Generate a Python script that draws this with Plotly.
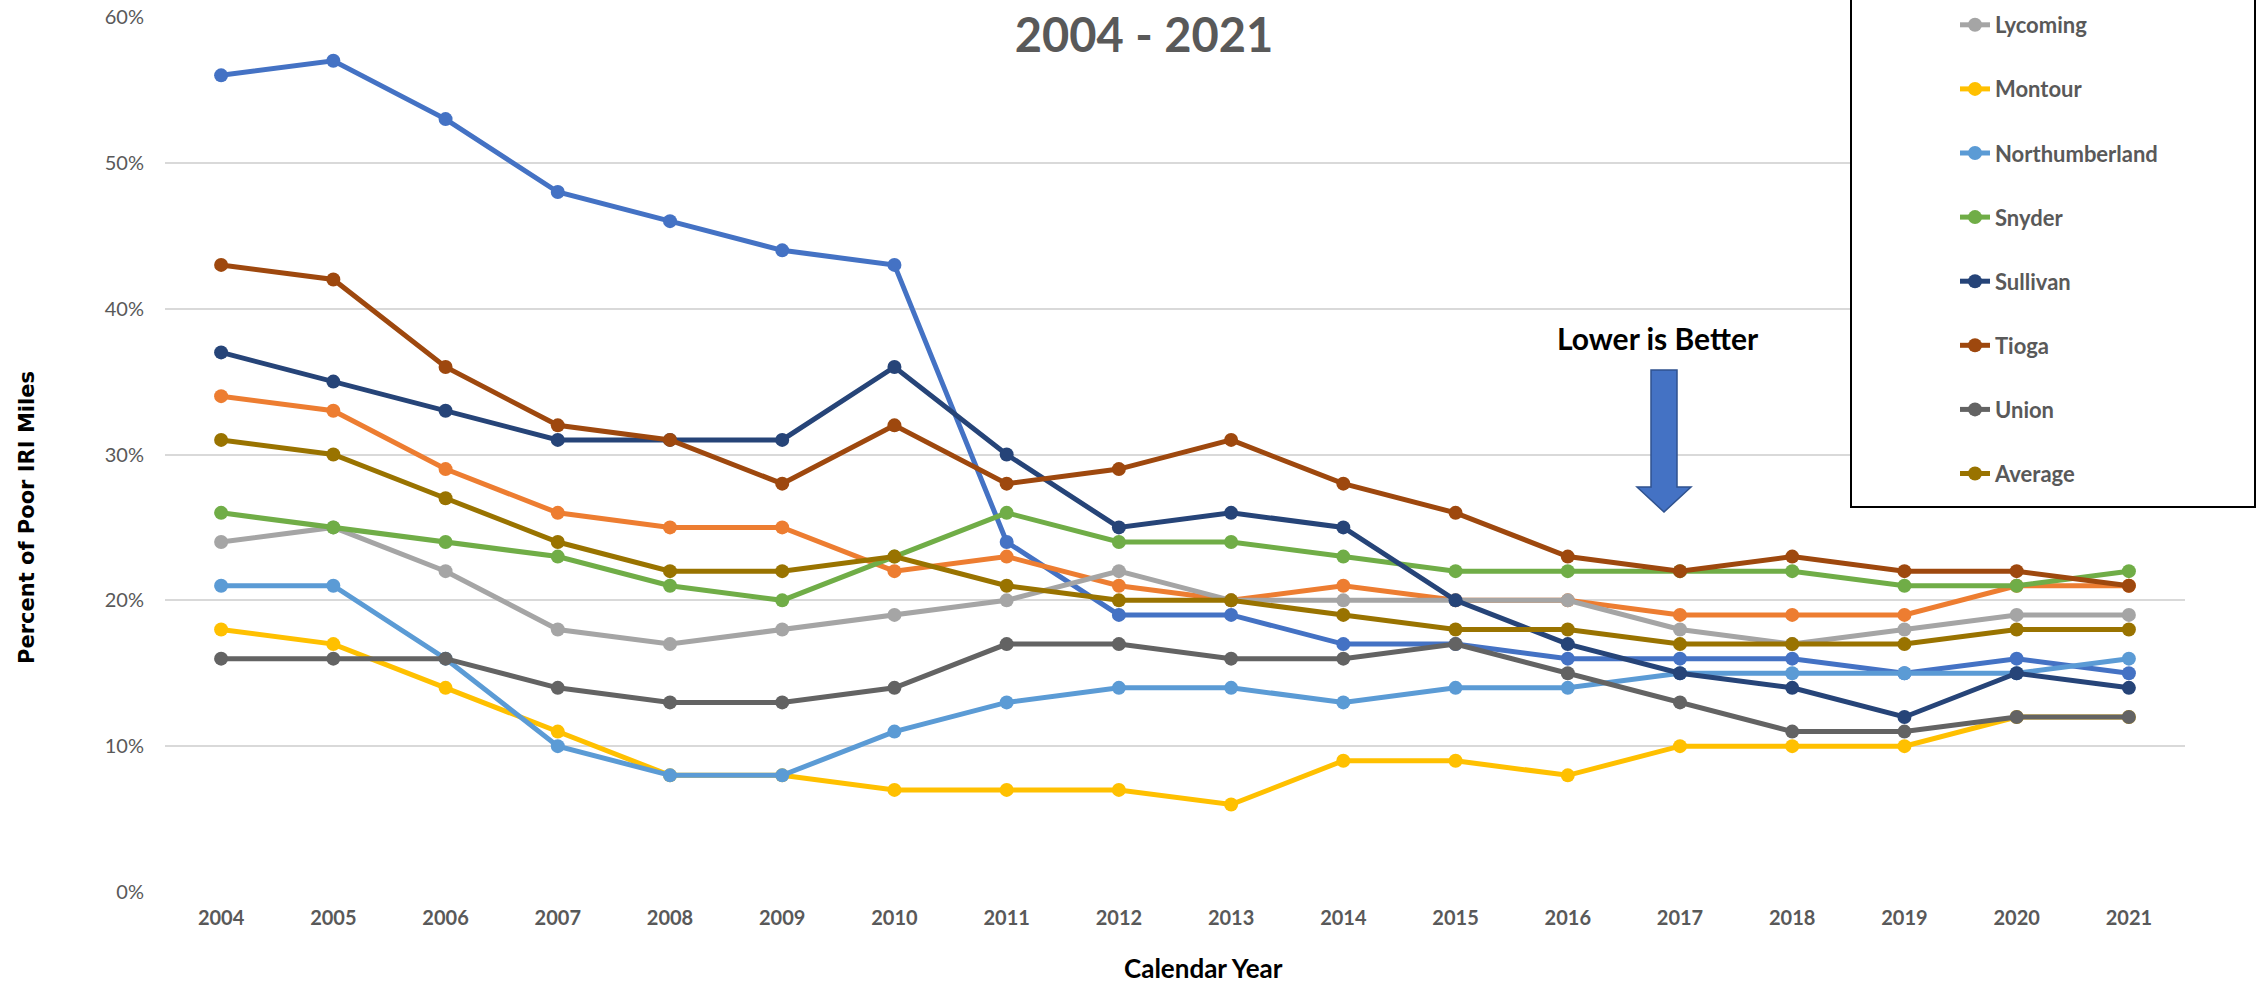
import plotly.graph_objects as go

years = ["2004", "2005", "2006", "2007", "2008", "2009", "2010", "2011", "2012",
         "2013", "2014", "2015", "2016", "2017", "2018", "2019", "2020", "2021"]

bradford = [56, 57, 53, 48, 46, 44, 43, 24, 19, 19, 17, 17, 16, 16, 16, 15, 16, 15]
columbia = [34, 33, 29, 26, 25, 25, 22, 23, 21, 20, 21, 20, 20, 19, 19, 19, 21, 21]
lycoming = [24, 25, 22, 18, 17, 18, 19, 20, 22, 20, 20, 20, 20, 18, 17, 18, 19, 19]
montour = [18, 17, 14, 11, 8, 8, 7, 7, 7, 6, 9, 9, 8, 10, 10, 10, 12, 12]
northumberland = [21, 21, 16, 10, 8, 8, 11, 13, 14, 14, 13, 14, 14, 15, 15, 15, 15, 16]
snyder = [26, 25, 24, 23, 21, 20, 23, 26, 24, 24, 23, 22, 22, 22, 22, 21, 21, 22]
sullivan = [37, 35, 33, 31, 31, 31, 36, 30, 25, 26, 25, 20, 17, 15, 14, 12, 15, 14]
tioga = [43, 42, 36, 32, 31, 28, 32, 28, 29, 31, 28, 26, 23, 22, 23, 22, 22, 21]
union = [16, 16, 16, 14, 13, 13, 14, 17, 17, 16, 16, 17, 15, 13, 11, 11, 12, 12]
average = [31, 30, 27, 24, 22, 22, 23, 21, 20, 20, 19, 18, 18, 17, 17, 17, 18, 18]

series_names = ["Bradford", "Columbia", "Lycoming", "Montour", "Northumberland",
                "Snyder", "Sullivan", "Tioga", "Union", "Average"]
series_values = [bradford, columbia, lycoming, montour, northumberland,
                 snyder, sullivan, tioga, union, average]
series_colors = ["#4472C4", "#ED7D31", "#A5A5A5", "#FFC000", "#5B9BD5",
                 "#70AD47", "#264478", "#9E480E", "#636363", "#997300"]
# the first two legend entries sit above the visible part of the legend box
legend_visible = [False, False, True, True, True, True, True, True, True, True]

W, H = 2257, 987
ML, MR, MT, MB = 165, 72, 17, 95
PW, PH = W - ML - MR, H - MT - MB


def px(x):
    return (x - ML) / PW


def py(y):
    return (H - MB - y) / PH


fig = go.Figure()
for name, vals, col, vis in zip(series_names, series_values, series_colors, legend_visible):
    fig.add_trace(go.Scatter(
        x=years, y=vals, name=name, mode="lines+markers",
        line=dict(color=col, width=5),
        marker=dict(color=col, size=14),
        legendgroup=name, showlegend=vis,
    ))

# legend frame (opaque, running off the top edge like the reference)
fig.add_shape(type="rect", xref="paper", yref="paper",
              x0=px(1851), x1=px(2255), y0=py(507), y1=py(-60),
              line=dict(color="black", width=2), fillcolor="white", layer="above")

# "Lower is Better" arrow
arrow = (f"M {px(1651)},{py(370)} L {px(1677)},{py(370)} L {px(1677)},{py(487)} "
         f"L {px(1691)},{py(487)} L {px(1664)},{py(512)} L {px(1637)},{py(487)} "
         f"L {px(1651)},{py(487)} Z")
fig.add_shape(type="path", xref="paper", yref="paper", path=arrow,
              fillcolor="#4472C4", line=dict(color="#2F528F", width=1.5), layer="above")

fig.add_annotation(text="Lower is Better", xref="paper", yref="paper",
                   x=px(1658), y=py(338), xanchor="center", yanchor="middle",
                   showarrow=False,
                   font=dict(family="Lato", size=30, color="black", weight="bold"))

fig.add_annotation(text="Percent of Poor IRI Miles", xref="paper", yref="paper",
                   x=px(27), y=py(518), xanchor="center", yanchor="middle",
                   showarrow=False, textangle=-90,
                   font=dict(family="DejaVu Sans", size=21, color="black", weight="bold"))

fig.add_annotation(text="Calendar Year", xref="paper", yref="paper",
                   x=px(1203), y=py(968), xanchor="center", yanchor="middle",
                   showarrow=False,
                   font=dict(family="Lato", size=26, color="black", weight="bold"))

fig.update_layout(
    width=W, height=H,
    margin=dict(l=ML, r=MR, t=MT, b=MB, autoexpand=False),
    paper_bgcolor="white", plot_bgcolor="white",
    title=dict(text="2004 - 2021", xref="paper", x=px(1144), xanchor="center",
               yref="container", y=1 - 36 / H, yanchor="middle",
               font=dict(family="Lato", size=47, color="#595959", weight="bold")),
    showlegend=True,
    legend=dict(x=px(1955), xanchor="left", y=py(4), yanchor="top",
                traceorder="grouped", tracegroupgap=32.5, maxheight=900,
                bgcolor="rgba(0,0,0,0)", borderwidth=0,
                font=dict(family="Lato", size=22, color="#595959", weight="bold")),
    xaxis=dict(type="category", range=[-0.5, 17.5], showgrid=False, zeroline=False,
               showline=False, ticks="", ticklabelstandoff=12,
               tickfont=dict(family="Lato", size=20, color="#595959", weight="bold")),
    yaxis=dict(range=[0, 60], dtick=10, ticksuffix="%", showgrid=True,
               gridcolor="#D9D9D9", gridwidth=2, zeroline=False, showline=False,
               ticks="", ticklabelstandoff=20,
               tickfont=dict(family="Lato", size=20, color="#595959")),
)

fig.write_html("out.html", config={"displayModeBar": False},
               post_script="document.body.style.margin='0';document.body.style.overflow='hidden';")
